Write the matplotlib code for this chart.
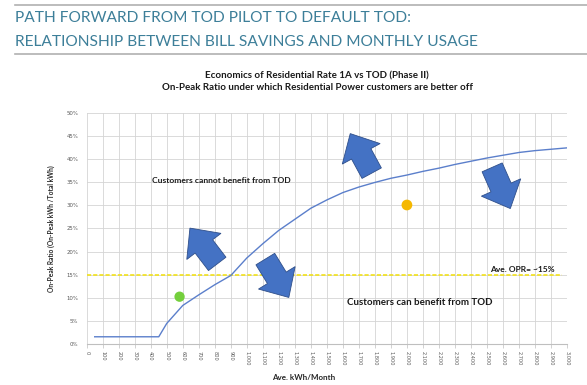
import numpy as np
import matplotlib
matplotlib.use("Agg")
import matplotlib.pyplot as plt
import matplotlib.patches as mpatches
import matplotlib.transforms as mtrans
from matplotlib.ticker import FuncFormatter

# data
usage_kwh = [50, 100, 200, 300, 400, 450, 500, 600, 700, 800, 900, 1000, 1100, 1200,
             1300, 1400, 1500, 1600, 1700, 1800, 1900, 2000, 2100, 2200, 2300, 2400,
             2500, 2600, 2700, 2800, 2900, 3000]
breakeven_opr = [1.5, 1.5, 1.5, 1.5, 1.5, 1.5, 4.4, 8.3, 10.6, 12.8, 14.8, 18.6, 21.7, 24.6,
                 27.0, 29.4, 31.2, 32.8, 34.0, 35.0, 35.9, 36.6, 37.4, 38.1, 38.9, 39.6,
                 40.3, 40.9, 41.5, 41.9, 42.2, 42.5]
avg_opr = 14.8
avg_opr_span = [0, 2970]
green_point = (580, 10.2)
yellow_point = (2000, 30.1)
x_ticks = list(range(0, 3001, 100))
y_ticks = list(range(0, 51, 5))

BLUE = "#4472c4"
TEAL = "#3d7f99"

fig = plt.figure(figsize=(5.87, 3.85), dpi=100)
ax = fig.add_axes([0.1477, 0.1073, 0.8183, 0.5984])

ax.set_xlim(0, 3000)
ax.set_ylim(0, 50)
ax.set_xticks(x_ticks)
ax.set_yticks(y_ticks)
ax.xaxis.set_major_formatter(FuncFormatter(lambda v, p: f"{int(v):,}"))
ax.yaxis.set_major_formatter(FuncFormatter(lambda v, p: f"{int(v)}%"))
ax.grid(True, color="#d4d4d4", lw=0.6)
ax.set_axisbelow(True)
for s in ["top", "right", "left"]:
    ax.spines[s].set_visible(False)
ax.spines["bottom"].set_color("#bfbfbf")
ax.spines["bottom"].set_linewidth(0.8)
ax.tick_params(axis="x", labelsize=3.6, rotation=-90, colors="#595959", length=3,
               width=0.5, pad=2)
ax.tick_params(axis="x", color="#bfbfbf")
ax.tick_params(axis="y", labelsize=3.9, colors="#595959", length=0, pad=6)

ax.plot(avg_opr_span, [avg_opr, avg_opr], color="#f2e21a", lw=1.2, ls=(0, (2.5, 1.2)))
ax.plot(usage_kwh, breakeven_opr, color="#5b7fcb", lw=1.0)
ax.scatter(*green_point, s=55, color="#74cf3c", zorder=4, edgecolor="none")
ax.scatter(*yellow_point, s=60, color="#f5b800", zorder=4, edgecolor="none")

# block arrows: centre in data units, direction in inches
arrows = [(1713, 41.3, -0.217, 0.40),
          (730, 21.2, -0.27, 0.354),
          (1189, 14.2, 0.228, -0.372),
          (2589, 33.8, 0.18, -0.408)]
for cx, cy, dx, dy in arrows:
    n = np.hypot(dx, dy)
    ux, uy = dx / n * 0.45, dy / n * 0.45
    tr = fig.dpi_scale_trans + mtrans.ScaledTranslation(cx, cy, ax.transData)
    arr = mpatches.FancyArrow(-ux / 2, -uy / 2, ux, uy, width=0.22, head_width=0.43,
                              head_length=0.23, length_includes_head=True,
                              transform=tr, facecolor=BLUE, edgecolor="#2f4f8a",
                              lw=0.6, zorder=5)
    ax.add_patch(arr)

ax.text(406, 35.4, "Customers cannot benefit from TOD", fontsize=6.1,
        fontweight="bold", family="Lato", va="center", ha="left", color="#1a1a1a")
ax.text(2537, 8.9, "Customers can benefit from TOD", fontsize=7.0,
        fontweight="bold", family="Lato", va="center", ha="right", color="#1a1a1a")
ax.text(2521, 16.1, "Ave. OPR= ~15%", fontsize=6.0, fontweight="bold",
        family="Lato", va="center", ha="left", color="#1a1a1a")

ax.set_ylabel("On-Peak Ratio (On-Peak kWh /Total kWh)", fontsize=4.8,
              fontweight="bold", family="Lato", color="#262626", labelpad=8)
fig.text(304 / 587, 1 - 377 / 385, "Ave. kWh/Month", fontsize=5.8, fontweight="bold",
         family="Lato", color="#262626", ha="center", va="center")

fig.text(317 / 587, 1 - 75.5 / 385, "Economics of Residential Rate 1A vs TOD (Phase II)",
         fontsize=7, fontweight="bold", family="Lato", ha="center", va="center",
         color="#1a1a1a")
fig.text(317 / 587, 1 - 87 / 385,
         "On-Peak Ratio under which Residential Power customers are better off",
         fontsize=7, fontweight="bold", family="Lato", ha="center", va="center",
         color="#1a1a1a")

# slide header
fig.text(15 / 587, 1 - 17.5 / 385, "PATH FORWARD FROM TOD PILOT TO DEFAULT TOD:",
         fontsize=11.2, family="Lato", color=TEAL, ha="left", va="center")
fig.text(15 / 587, 1 - 42 / 385, "RELATIONSHIP BETWEEN BILL SAVINGS AND MONTHLY USAGE",
         fontsize=11.2, family="Lato", color=TEAL, ha="left", va="center")
for yy in (5, 54):
    fig.add_artist(plt.Line2D([15 / 587, 1], [1 - yy / 385] * 2, color="#b0b0b0",
                              lw=1.2, transform=fig.transFigure))

fig.savefig("out.png", dpi=100)
